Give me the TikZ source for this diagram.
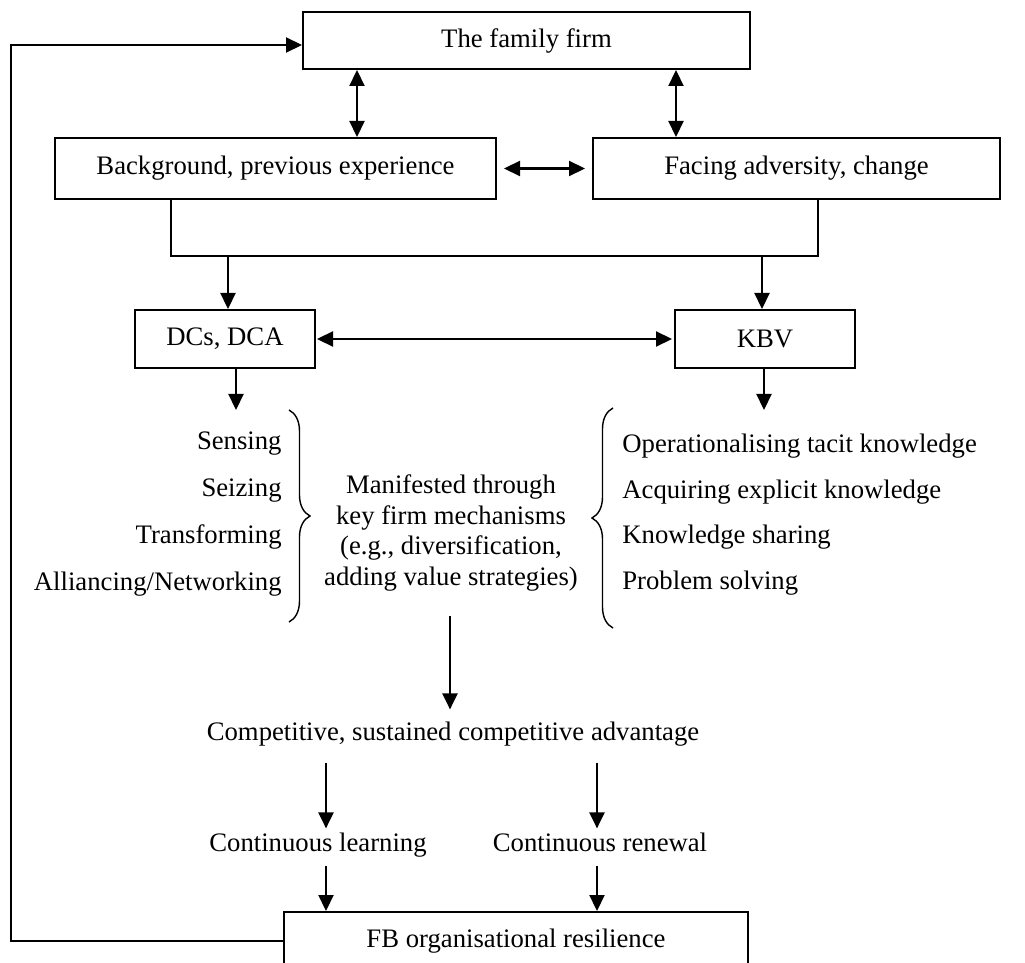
\documentclass[tikz,border=0pt]{standalone}
\usepackage{fontspec}
\setmainfont{Liberation Serif}
\usetikzlibrary{arrows.meta,decorations.pathreplacing}
\begin{document}
\begin{tikzpicture}[x=0.5pt,y=-0.5pt,
  every node/.style={font=\fontsize{13.35pt}{15.5pt}\selectfont},
  box/.style={draw,line width=1pt,inner sep=0pt,minimum height=29pt},
  ln/.style={line width=1.1pt},
  arr/.style={ln,-{Triangle[length=8pt,width=7.5pt]}},
  dbl/.style={ln,{Triangle[length=8pt,width=7.5pt]}-{Triangle[length=8pt,width=7.5pt]}},
  brc/.style={decorate,decoration={brace,amplitude=10.5pt},line width=0.7pt},
  lbl/.style={inner xsep=2pt,inner ysep=#1,text height=0.7em,text depth=0.22em},
  lst/.style={inner sep=0pt}]
\useasboundingbox (0,0) rectangle (1025,963);
% boxes
\node[box,minimum width=223.5pt,minimum height=28.5pt] (fam) at (526.5,40.5) {The family firm};
\node[box,minimum width=220.5pt,minimum height=30.5pt] (bg) at (275.5,168.5) {Background, previous experience};
\node[box,minimum width=203.5pt,minimum height=30.5pt] (fa) at (796.5,168.5) {Facing adversity, change};
\node[box,minimum width=90pt] (dc) at (225,339) {DCs, DCA};
\node[box,minimum width=90pt] (kbv) at (765,339) {KBV};
\node[box,minimum width=232pt,minimum height=29pt] (fb) at (516,941) {FB organisational resilience};
% lists
\node[lst,anchor=east,align=right,font=\fontsize{13.35pt}{23.35pt}\selectfont] (dcl) at (282,514)
  {Sensing\\Seizing\\Transforming\\Alliancing/Networking};
\node[lst,anchor=west,align=left,font=\fontsize{13.35pt}{22.85pt}\selectfont] (kbl) at (622,514.5)
  {Operationalising tacit knowledge\\Acquiring explicit knowledge\\Knowledge sharing\\Problem solving};
\node[lst,align=center,font=\fontsize{13.35pt}{15.2pt}\selectfont] (mid) at (451,533)
  {Manifested through\\key firm mechanisms\\(e.g., diversification,\\adding value strategies)};
% braces
\draw[brc] (289,410) -- (289,622);
\draw[brc] (613,628) -- (613,408);
% lower labels
\node[lbl=8.5pt] (comp) at (453,736) {Competitive, sustained competitive advantage};
\node[lbl=4.5pt] (learn) at (318,847) {Continuous learning};
\node[lbl=4.5pt] (renew) at (600,847) {Continuous renewal};
% coordinates
\coordinate (c1) at (357,0);
\coordinate (c2) at (676,0);
\coordinate (b1) at (171,256);
\coordinate (b2) at (818,256);
\coordinate (j1) at (228,256);
\coordinate (j2) at (762,256);
\coordinate (ldown) at (236,410);
\coordinate (rdown) at (764,410);
\coordinate (mtop) at (450,616);
\coordinate (lx) at (326,0);
\coordinate (rx) at (597,0);
\coordinate (fbk) at (11,45);
% connectors
\draw[dbl] (fam.south -| c1) -- (bg.north -| c1);
\draw[dbl] (fam.south -| c2) -- (fa.north -| c2);
\draw[dbl,shorten <=3.5pt,shorten >=3.5pt] (bg.east) -- (fa.west);
\draw[ln] (bg.south -| b1) -- (b1) -- (b2) -- (fa.south -| b2);
\draw[arr] (j1) -- (dc.north -| j1);
\draw[arr] (j2) -- (kbv.north -| j2);
\draw[dbl,shorten <=0.5pt,shorten >=1pt] (dc.east) -- (kbv.west);
\draw[arr] (dc.south -| ldown) -- (ldown);
\draw[arr] (kbv.south -| rdown) -- (rdown);
\draw[arr] (mtop) -- (comp.north -| mtop);
\draw[arr] (comp.south -| lx) -- (learn.north -| lx);
\draw[arr] (comp.south -| rx) -- (renew.north -| rx);
\draw[arr] (learn.south -| lx) -- (fb.north -| lx);
\draw[arr] (renew.south -| rx) -- (fb.north -| rx);
\draw[arr] (fb.west) -- (fb.west -| fbk) -- (fbk) -- (fbk -| fam.west);
\end{tikzpicture}
\end{document}
